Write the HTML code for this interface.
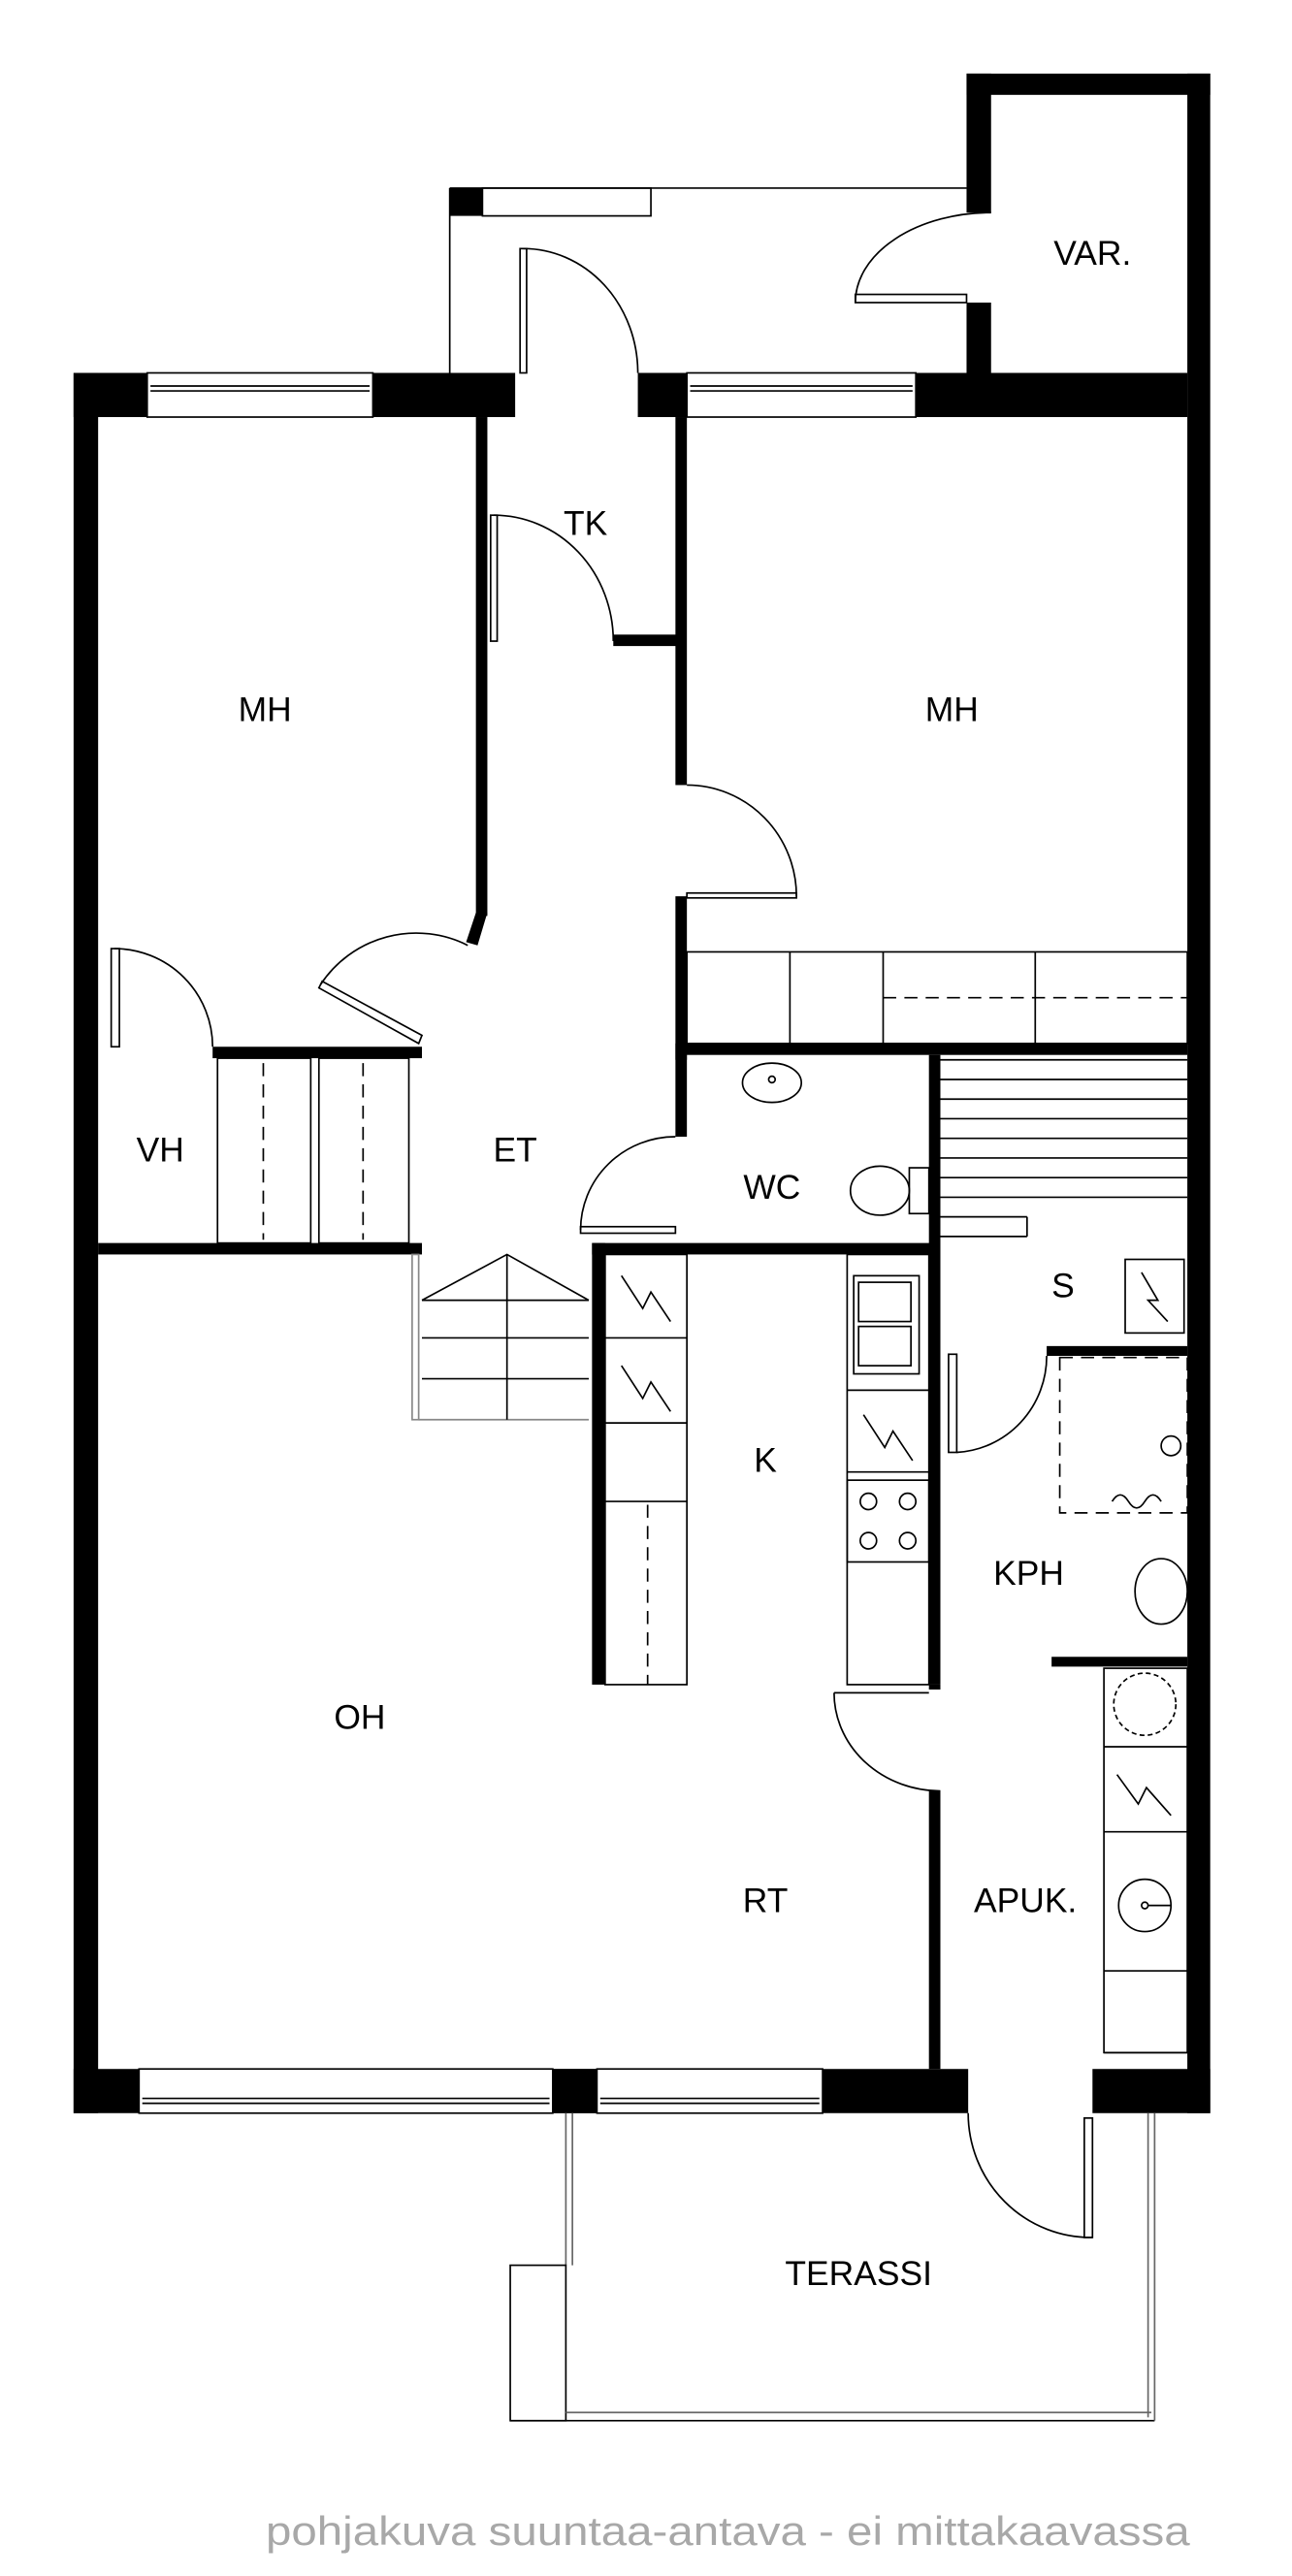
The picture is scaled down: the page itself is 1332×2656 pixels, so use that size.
<!DOCTYPE html>
<html><head><meta charset="utf-8"><style>html,body{margin:0;padding:0;background:#fff}svg{display:block}</style></head><body>
<svg width="1332" height="2656" viewBox="0 0 790 1575" preserveAspectRatio="none" xmlns="http://www.w3.org/2000/svg">
<g fill="#000">
<!-- outer walls -->
<rect x="45" y="228" width="15" height="1064"/>
<rect x="726" y="45" width="14" height="1247"/>
<rect x="45" y="228" width="270" height="27"/>
<rect x="390" y="228" width="336" height="27"/>
<rect x="591" y="45" width="149" height="13"/>
<rect x="591" y="45" width="15" height="85"/>
<rect x="591" y="185" width="15" height="45"/>
<rect x="45" y="1265" width="547" height="27"/>
<rect x="668" y="1265" width="72" height="27"/>
<!-- interior walls -->
<rect x="291" y="255" width="7" height="305"/>
<polygon points="291,558 298,558 292,578 285,576"/>
<rect x="413" y="255" width="7" height="225"/>
<rect x="413" y="548" width="7" height="100"/>
<rect x="413" y="645" width="7" height="50"/>
<rect x="375" y="388" width="40" height="7"/>
<rect x="413" y="638" width="313" height="7"/>
<rect x="130" y="640" width="128" height="7"/>
<rect x="60" y="760" width="198" height="7"/>
<rect x="362" y="760" width="213" height="7"/>
<rect x="362" y="760" width="8" height="270"/>
<rect x="568" y="645" width="7" height="385"/>
<rect x="568" y="1030" width="7" height="3"/>
<rect x="568" y="1095" width="7" height="170"/>
<rect x="640" y="823" width="86" height="6"/>
<rect x="643" y="1013" width="83" height="6"/>
<rect x="275" y="115" width="20" height="17"/>
<rect x="338" y="1265" width="27" height="27"/>
</g>
<g fill="#fff" stroke="#000" stroke-width="1">
<!-- windows -->
<rect x="90" y="228" width="138" height="27"/>
<rect x="420" y="228" width="140" height="27"/>
<rect x="85" y="1265" width="253" height="27"/>
<rect x="365" y="1265" width="138" height="27"/>
</g>
<g fill="none" stroke="#000" stroke-width="1">
<line x1="92" y1="236" x2="226" y2="236"/><line x1="92" y1="239" x2="226" y2="239"/>
<line x1="422" y1="236" x2="558" y2="236"/><line x1="422" y1="239" x2="558" y2="239"/>
<line x1="87" y1="1283" x2="336" y2="1283"/><line x1="87" y1="1286" x2="336" y2="1286"/>
<line x1="367" y1="1283" x2="501" y2="1283"/><line x1="367" y1="1286" x2="501" y2="1286"/>
<!-- corridor outline -->
<line x1="275" y1="115" x2="275" y2="228"/>
<line x1="275" y1="115" x2="591" y2="115"/>
<rect x="295" y="115" width="103" height="17"/>
<!-- entry door -->
<rect x="318" y="152" width="4" height="76"/>
<path d="M320,152 A70,76 0 0 1 390,228"/>
<!-- VAR door -->
<rect x="523" y="180" width="68" height="5"/>
<path d="M606,130 A83,55 0 0 0 523,185"/>
<!-- TK door -->
<rect x="300" y="315" width="4" height="77"/>
<path d="M302,315 A73,77 0 0 1 375,392"/>
<!-- MH right door -->
<rect x="420" y="546" width="67" height="3"/>
<path d="M420,480 A67,68 0 0 1 487,548"/>
<!-- MH left door -->
<polygon points="258,633 197,600 195,604 256,638"/>
<path d="M196,602 A70,70 0 0 1 286,578"/>
<!-- VH door -->
<rect x="68" y="580" width="5" height="60"/>
<path d="M70,580 A60,60 0 0 1 130,640"/>
<!-- VH closets -->
<rect x="133" y="647" width="57" height="113"/>
<rect x="195" y="647" width="55" height="113"/>
</g>
<g stroke="#000" stroke-width="1" stroke-dasharray="8,5" fill="none">
<line x1="161" y1="650" x2="161" y2="758"/>
<line x1="222" y1="650" x2="222" y2="758"/>
<line x1="540" y1="610" x2="726" y2="610"/>
<line x1="396" y1="920" x2="396" y2="1030"/>
<rect x="648" y="830" width="78" height="95"/>
</g>
<g fill="none" stroke="#000" stroke-width="1">
<!-- wardrobe -->
<rect x="420" y="582" width="306" height="56"/>
<line x1="483" y1="582" x2="483" y2="638"/>
<line x1="540" y1="582" x2="540" y2="638"/>
<line x1="633" y1="582" x2="633" y2="638"/>
</g>
<!-- stairs -->
<g fill="none" stroke="#888" stroke-width="1">
<rect x="252" y="767" width="4" height="101"/>
<line x1="256" y1="868" x2="360" y2="868"/>
</g>
<g fill="none" stroke="#000" stroke-width="1">
<line x1="258" y1="795" x2="360" y2="795"/>
<line x1="258" y1="818" x2="360" y2="818"/>
<line x1="258" y1="843" x2="360" y2="843"/>
<line x1="310" y1="767" x2="310" y2="868"/>
<polyline points="258,795 310,767 360,795"/>
<!-- island counter -->
<rect x="370" y="767" width="50" height="263"/>
<line x1="370" y1="818" x2="420" y2="818"/>
<line x1="370" y1="870" x2="420" y2="870"/>
<line x1="370" y1="918" x2="420" y2="918"/>
<polyline points="380,780 393,800 398,790 410,808"/>
<polyline points="380,835 393,855 398,845 410,863"/>
<!-- WC door -->
<rect x="355" y="750" width="58" height="4"/>
<path d="M355,752 A58,57 0 0 1 413,695"/>
<!-- WC fixtures -->
<ellipse cx="472" cy="662" rx="18" ry="12"/>
<circle cx="472" cy="660" r="2"/>
<ellipse cx="538" cy="728" rx="18" ry="15"/>
<rect x="556" y="714" width="12" height="28"/>
<!-- kitchen counter -->
<rect x="518" y="767" width="50" height="263"/>
<rect x="522" y="780" width="40" height="60"/>
<rect x="525" y="784" width="32" height="24"/><rect x="525" y="811" width="32" height="24"/>
<line x1="518" y1="850" x2="568" y2="850"/>
<line x1="518" y1="900" x2="568" y2="900"/>
<rect x="518" y="905" width="50" height="50"/>
<circle cx="531" cy="918" r="5"/><circle cx="555" cy="918" r="5"/>
<circle cx="531" cy="942" r="5"/><circle cx="555" cy="942" r="5"/>
<polyline points="528,865 541,885 546,875 558,893"/>
<!-- RT door -->
<path d="M510,1035 A65,60 0 0 0 575,1095"/>
<line x1="510" y1="1035" x2="568" y2="1035"/>
<!-- sauna benches -->
<line x1="575" y1="648" x2="726" y2="648"/>
<line x1="575" y1="660" x2="726" y2="660"/>
<line x1="575" y1="672" x2="726" y2="672"/>
<line x1="575" y1="684" x2="726" y2="684"/>
<line x1="575" y1="696" x2="726" y2="696"/>
<line x1="575" y1="708" x2="726" y2="708"/>
<line x1="575" y1="720" x2="726" y2="720"/>
<line x1="575" y1="732" x2="726" y2="732"/>
<line x1="575" y1="744" x2="628" y2="744"/>
<line x1="575" y1="756" x2="628" y2="756"/>
<line x1="628" y1="744" x2="628" y2="756"/>
<rect x="688" y="770" width="36" height="45"/>
<polyline points="698,778 708,795 702,795 714,808"/>
<!-- KPH door -->
<rect x="580" y="828" width="5" height="60"/>
<path d="M640,829 A58,59 0 0 1 585,888"/>
<!-- KPH fixtures -->
<ellipse cx="710" cy="973" rx="16" ry="20"/>
<circle cx="716" cy="884" r="6"/>
<path d="M680,918 q5,-8 10,0 t10,0 t10,0"/>
<!-- APUK counter -->
<rect x="675" y="1020" width="51" height="235"/>
<line x1="675" y1="1068" x2="726" y2="1068"/>
<line x1="675" y1="1120" x2="726" y2="1120"/>
<line x1="675" y1="1205" x2="726" y2="1205"/>
<line x1="675" y1="1255" x2="726" y2="1255"/>
<circle cx="700" cy="1042" r="19" stroke-dasharray="3,2"/>
<polyline points="683,1085 696,1103 701,1093 716,1110"/>
<ellipse cx="700" cy="1165" rx="16" ry="16"/>
<circle cx="700" cy="1165" r="2"/>
<line x1="702" y1="1165" x2="716" y2="1165"/>
<!-- terrace door -->
<rect x="663" y="1295" width="5" height="73"/>
<path d="M592,1292 A75,76 0 0 0 668,1368"/>
<!-- terrace -->
<line x1="346" y1="1292" x2="346" y2="1385" stroke="#666"/>
<line x1="350" y1="1292" x2="350" y2="1385" stroke="#666"/>
<rect x="312" y="1385" width="34" height="95"/>
<line x1="346" y1="1475" x2="704" y2="1475" stroke="#666"/>
<line x1="312" y1="1480" x2="706" y2="1480"/>
<line x1="702" y1="1292" x2="702" y2="1478" stroke="#666"/>
<line x1="706" y1="1292" x2="706" y2="1480" stroke="#666"/>
</g>
<g font-family="Liberation Sans, Arial, sans-serif" font-size="21" fill="#000" text-anchor="middle">
<text x="668" y="162">VAR.</text>
<text x="358" y="327">TK</text>
<text x="162" y="441">MH</text>
<text x="582" y="441">MH</text>
<text x="98" y="710">VH</text>
<text x="315" y="710">ET</text>
<text x="472" y="733">WC</text>
<text x="650" y="793">S</text>
<text x="468" y="900">K</text>
<text x="629" y="969">KPH</text>
<text x="220" y="1057">OH</text>
<text x="468" y="1169">RT</text>
<text x="627" y="1169">APUK.</text>
<text x="525" y="1397">TERASSI</text>
</g>
<text x="445" y="1556" font-family="Liberation Sans, Arial, sans-serif" font-size="25" fill="#a8a8a8" text-anchor="middle" textLength="565" lengthAdjust="spacingAndGlyphs">pohjakuva suuntaa-antava - ei mittakaavassa</text>
</svg>
</body></html>
